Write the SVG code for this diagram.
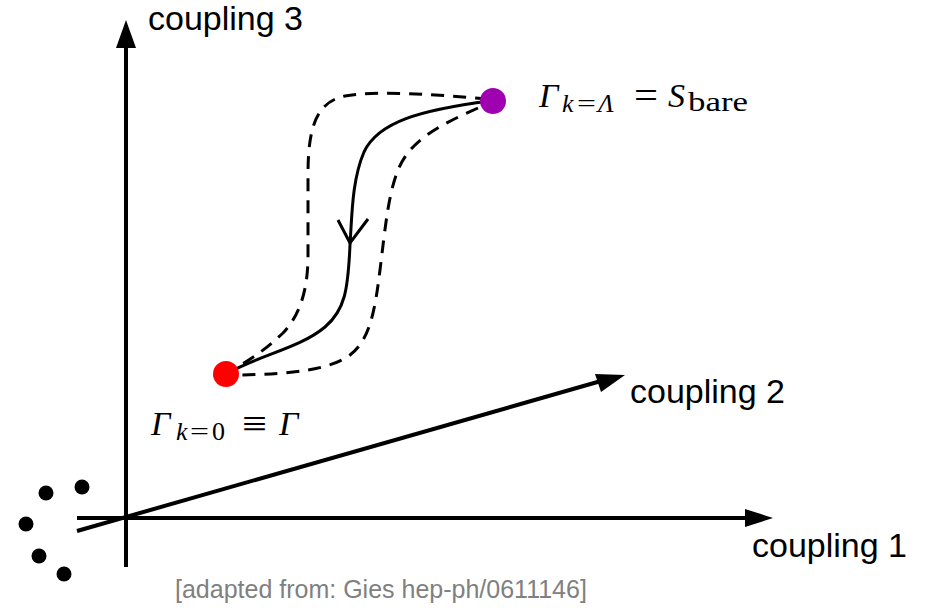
<svg xmlns="http://www.w3.org/2000/svg" width="935" height="615" viewBox="0 0 935 615">
<style>
.axis{stroke:#000;stroke-width:4;fill:none}
.head{fill:#000}
.flow{stroke:#000;stroke-width:3;fill:none;stroke-linecap:butt}
.dash{stroke-dasharray:13 9}
.lab{font-family:"Liberation Sans",Arial,sans-serif;font-size:34px;fill:#000}
.math{font-family:"Liberation Serif","Times New Roman","DejaVu Serif",serif;fill:#000}
.it{font-style:italic}
.cap{font-family:"Liberation Sans",Arial,sans-serif;font-size:25px;fill:#808080}
</style>
<rect width="935" height="615" fill="#fff"/>
<g id="axes">
  <line class="axis" x1="126" y1="567" x2="126" y2="44"/>
  <polygon class="head" points="126,20 116,48 136,48"/>
  <line class="axis" x1="77" y1="518" x2="749" y2="518"/>
  <polygon class="head" points="773,518 745,509 745,527"/>
  <line class="axis" x1="77" y1="531" x2="601" y2="381"/>
  <polygon class="head" points="625,375 595,374 601,392"/>
</g>
<g id="dots">
  <circle cx="46" cy="493" r="7.5"/>
  <circle cx="82" cy="487" r="7.5"/>
  <circle cx="26" cy="524" r="7.5"/>
  <circle cx="39" cy="556" r="7.5"/>
  <circle cx="64" cy="574" r="7.5"/>
</g>
<g id="connectors">
  <path class="flow dash" d="M488,99 C440,95 380,90 345,96 C315,102 308,130 308,175 L308,255 C308,290 300,315 283,333 C265,350 250,360 232,370"/>
  <path class="flow dash" d="M478,108 C440,125 410,140 398,170 C388,195 385,230 380,270 C375,310 370,340 350,355 C330,370 290,374 240,375"/>
  <path class="flow" d="M490,101 C420,110 378,122 364,152 C352,180 352,215 350,245 C348,290 345,310 325,327 C300,348 260,355 228,373"/>
  <polyline class="flow" points="338,220 350,243 368,219"/>
</g>
<g id="node-end">
  <circle cx="493" cy="101" r="13" fill="#9f00b0"/>
  <text class="math" y="107">
    <tspan class="it" x="539" font-size="34">Γ</tspan>
    <tspan class="it" x="562" y="112" font-size="26">k</tspan>
    <tspan x="577" y="112" font-size="26" textLength="19" lengthAdjust="spacingAndGlyphs">=</tspan>
    <tspan class="it" x="598" y="112" font-size="26">Λ</tspan>
    <tspan x="634" y="109" font-size="40" textLength="24" lengthAdjust="spacingAndGlyphs">=</tspan>
    <tspan class="it" x="668" y="107" font-size="34">S</tspan>
    <tspan x="688" y="111" font-size="28" textLength="60" lengthAdjust="spacingAndGlyphs">bare</tspan>
  </text>
</g>
<g id="node-start">
  <circle cx="226" cy="374" r="13" fill="#ff0000"/>
  <text class="math" y="435">
    <tspan class="it" x="151" font-size="34">Γ</tspan>
    <tspan class="it" x="176" y="440" font-size="26">k</tspan>
    <tspan x="190" y="440" font-size="26" textLength="19" lengthAdjust="spacingAndGlyphs">=</tspan>
    <tspan x="212" y="440" font-size="26">0</tspan>
    <tspan x="242" y="437" font-size="40" textLength="25" lengthAdjust="spacingAndGlyphs">≡</tspan>
    <tspan class="it" x="279" y="435" font-size="34">Γ</tspan>
  </text>
</g>
<g id="labels">
  <text class="lab" x="148" y="30">coupling 3</text>
  <text class="lab" x="630" y="403">coupling 2</text>
  <text class="lab" x="752" y="557">coupling 1</text>
  <text class="cap" x="175" y="598">[adapted from: Gies hep-ph/0611146]</text>
</g>
</svg>
